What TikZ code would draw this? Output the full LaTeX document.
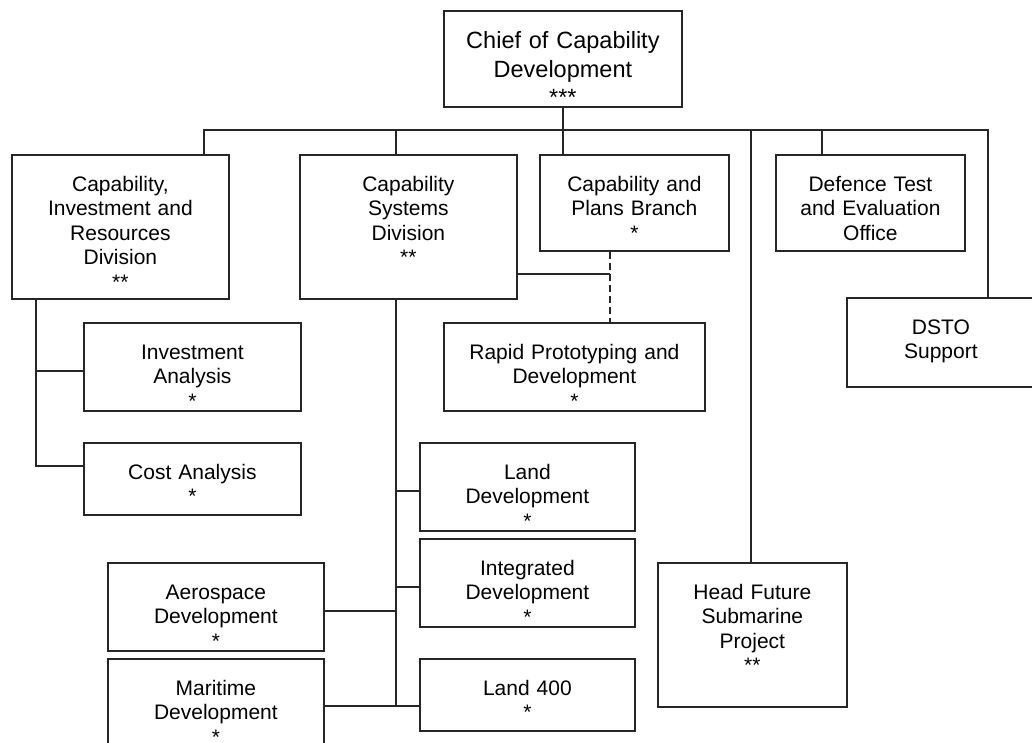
\documentclass[tikz,border=0pt]{standalone}
\usepackage{fontspec}
\setmainfont{Liberation Sans}
\usepackage{tikz}
\usetikzlibrary{calc}

\begin{document}
\begin{tikzpicture}[
	x=1pt, y=-1pt,
	unit/.style={draw=black!85, line width=1.8pt, anchor=north west, align=center,
		inner xsep=0pt, inner ysep=0pt, text height=36.5pt,
		font=\fontsize{21pt}{24.4pt}\selectfont},
	headunit/.style={unit, text height=38pt, font=\fontsize{23.5pt}{28.3pt}\selectfont},
	link/.style={draw=black!85, line width=1.8pt},
	advisory/.style={link, dash pattern=on 7pt off 4pt}
	]
	
	\path[use as bounding box, fill=white] (0,0) rectangle (1032,742);
	
	% ==================================================
	% Top of the chart
	% ==================================================
	\node[headunit, text width=238pt, text depth=58pt] (chief) at (443,10)
	{Chief of Capability\\Development\\{}***};
	
	\node[unit, text width=217pt, text depth=107.5pt] (cird) at (11,154)
	{Capability,\\Investment and\\Resources\\Division\\{}**};
	\node[unit, text width=217pt, text depth=107.5pt] (csd) at (299,154)
	{Capability\\Systems\\Division\\{}**};
	\node[unit, text width=189pt, text depth=59.5pt] (cpb) at (539,154)
	{Capability and\\Plans Branch\\{}*};
	\node[unit, text width=189pt, text depth=59.5pt] (dteo) at (775,154)
	{Defence Test\\and Evaluation\\Office};
	\node[unit, text width=188pt, text depth=52.5pt] (dsto) at (846,297)
	{DSTO\\Support};
	\node[unit, text width=189pt, text depth=107.5pt] (hfsp) at (657,562)
	{Head Future\\Submarine\\Project\\{}**};
	
	% ==================================================
	% Branches
	% ==================================================
	\node[unit, text width=217pt, text depth=51.5pt] (ia) at (83,322)
	{Investment\\Analysis\\{}*};
	\node[unit, text width=217pt, text depth=35.5pt] (cost) at (83,442)
	{Cost Analysis\\{}*};
	
	\node[unit, text width=261pt, text depth=51.5pt] (rpd) at (443,322)
	{Rapid Prototyping and\\Development\\{}*};
	
	\node[unit, text width=215pt, text depth=51.5pt] (landdev) at (419,442)
	{Land\\Development\\{}*};
	\node[unit, text width=215pt, text depth=51.5pt] (intdev) at (419,538)
	{Integrated\\Development\\{}*};
	\node[unit, text width=215pt, text depth=35.5pt] (land400) at (419,658)
	{Land 400\\{}*};
	\node[unit, text width=216pt, text depth=51.5pt] (aero) at (107,562)
	{Aerospace\\Development\\{}*};
	\node[unit, text width=216pt, text depth=51.5pt] (mari) at (107,658)
	{Maritime\\Development\\{}*};
	
	% ==================================================
	% Connectors
	% ==================================================
	\coordinate (busL) at (204,130);
	\coordinate (busR) at (988,130);
	\draw[link] (cird.north -| busL) -- (busL) -- (busR) -- (dsto.north -| busR);
	\draw[link] (chief.south) -- (cpb.north -| chief.south);
	\draw[link] (busL -| 396,0) -- (csd.north -| 396,0);
	\draw[link] (busL -| 822,0) -- (dteo.north -| 822,0);
	\draw[link] (busL -| 751,0) -- (hfsp.north -| 751,0);
	
	% resources division
	\coordinate (cirdfoot) at (36,466);
	\draw[link] (cird.south -| cirdfoot) -- (cirdfoot) -- (cost.west |- cirdfoot);
	\draw[link] ([yshift=-4pt]ia.west) -- ([yshift=-4pt]ia.west -| cirdfoot);
	
	% systems division
	\coordinate (csdfoot) at (396,706);
	\draw[link] (csd.south -| csdfoot) -- (csdfoot);
	\draw[link] (mari.east |- csdfoot) -- (land400.west |- csdfoot);
	\draw[link] ([yshift=-4pt]landdev.west) -- ([yshift=-4pt]landdev.west -| csdfoot);
	\draw[link] ([yshift=-4pt]intdev.west) -- ([yshift=-4pt]intdev.west -| csdfoot);
	\draw[link] ([yshift=-4pt]aero.east) -- ([yshift=-4pt]aero.east -| csdfoot);
	
	% rapid prototyping
	\coordinate (rapid) at (610,274);
	\draw[link] (csd.east |- rapid) -- (rapid);
	\draw[advisory] (cpb.south -| rapid) -- (rpd.north -| rapid);
	
\end{tikzpicture}
\end{document}
